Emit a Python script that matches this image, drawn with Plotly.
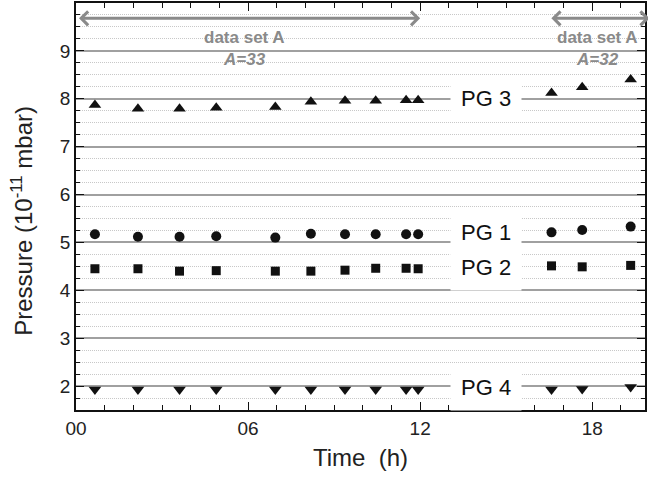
import plotly.graph_objects as go

# ---- data ----
time_h = [0.66, 2.16, 3.61, 4.89, 6.95, 8.19, 9.38, 10.45, 11.51, 11.93, 16.58, 17.65, 19.34]
pg3 = [7.87, 7.79, 7.79, 7.81, 7.83, 7.94, 7.96, 7.96, 7.97, 7.97, 8.12, 8.24, 8.40]
pg1 = [5.17, 5.12, 5.12, 5.13, 5.10, 5.18, 5.17, 5.17, 5.17, 5.17, 5.21, 5.26, 5.33]
pg2 = [4.45, 4.45, 4.40, 4.41, 4.40, 4.40, 4.42, 4.46, 4.46, 4.45, 4.51, 4.49, 4.52]
pg4 = [1.93, 1.93, 1.93, 1.93, 1.93, 1.93, 1.93, 1.93, 1.93, 1.93, 1.93, 1.94, 1.98]

series_names = ["PG 3", "PG 1", "PG 2", "PG 4"]
series_values = [pg3, pg1, pg2, pg4]
series_symbols = ["triangle-up", "circle", "square", "triangle-down"]
series_sizes = [11, 10, 9, 11]
label_x = 14.28
label_y = [8.0, 5.2, 4.47, 1.97]

x_tickvals = [0, 6, 12, 18]
x_ticktext = ["00", "06", "12", "18"]

datasets = [
    {"start": 0.0, "end": 12.0, "center": 5.87, "label": "A=33"},
    {"start": 16.47, "end": 20.0, "center": 18.2, "label": "A=32"},
]
arrow_y = 9.68

FONT = "Liberation Sans, Arial, sans-serif"
fig = go.Figure()

for name, vals, sym, sz in zip(series_names, series_values, series_symbols, series_sizes):
    fig.add_trace(go.Scatter(
        x=time_h, y=vals, mode="markers", name=name,
        marker=dict(symbol=sym, size=sz, color="#111111"),
        showlegend=False,
    ))

annotations = []
for name, ly in zip(series_names, label_y):
    annotations.append(dict(
        x=label_x, y=ly, xref="x", yref="y", text=name, showarrow=False,
        font=dict(family=FONT, size=22, color="#111111"),
        bgcolor="white", borderpad=10,
    ))

for ds in datasets:
    annotations.append(dict(
        x=ds["end"], y=arrow_y, ax=ds["start"], ay=arrow_y,
        xref="x", yref="y", axref="x", ayref="y", text=" ",
        showarrow=True, arrowhead=4, startarrowhead=4, arrowside="end+start",
        arrowwidth=3, arrowcolor="#8a8a8a", arrowsize=0.9, startarrowsize=0.9,
    ))
    annotations.append(dict(
        x=ds["center"], y=9.27, xref="x", yref="y", text="<b>data set A</b>",
        showarrow=False, font=dict(family=FONT, size=17, color="#8a8a8a"),
    ))
    annotations.append(dict(
        x=ds["center"], y=8.81, xref="x", yref="y", text="<b><i>" + ds["label"] + "</i></b>",
        showarrow=False, font=dict(family=FONT, size=17, color="#8a8a8a"),
    ))

# y-axis title as a rotated annotation (placed slightly below the plot centre, as in the reference)
annotations.append(dict(
    x=0, y=0.465, xref="paper", yref="paper", xshift=-54,
    xanchor="center", yanchor="middle",
    text="Pressure (10<sup>-11</sup> mbar)", textangle=-90, showarrow=False,
    font=dict(family=FONT, size=24, color="#222222"),
))

fig.update_layout(
    width=648, height=481,
    margin=dict(l=76, r=1, t=3, b=71),
    paper_bgcolor="white", plot_bgcolor="white",
    font=dict(family=FONT, color="#222222"),
    annotations=annotations,
    xaxis=dict(
        range=[0, 19.84],
        tickmode="array", tickvals=x_tickvals, ticktext=x_ticktext,
        ticks="inside", ticklen=8, tickwidth=1.3, tickcolor="#111111",
        minor=dict(tickmode="linear", tick0=0, dtick=1, ticks="inside", ticklen=5,
                   tickwidth=1.2, tickcolor="#111111", showgrid=False),
        showgrid=False, zeroline=False,
        showline=True, linecolor="#111111", linewidth=1.5, mirror="ticks",
        tickfont=dict(family=FONT, size=19, color="#222222"),
        title=dict(text="Time \u00a0(h)", font=dict(family=FONT, size=24, color="#222222"), standoff=12),
    ),
    yaxis=dict(
        range=[1.5, 10],
        tickmode="linear", tick0=0, dtick=1,
        ticks="inside", ticklen=8, tickwidth=1.3, tickcolor="#111111",
        showgrid=True, gridcolor="#a0a0a0", gridwidth=1.5,
        minor=dict(tickmode="linear", tick0=0, dtick=0.25, ticks="inside", ticklen=4,
                   tickwidth=1.2, tickcolor="#111111",
                   showgrid=True, gridcolor="#c8c8c8", gridwidth=1, griddash="1px,1px"),
        zeroline=False,
        showline=True, linecolor="#111111", linewidth=1.5, mirror="ticks",
        tickfont=dict(family=FONT, size=19, color="#222222"),
    ),
)

fig.write_html("out.html")
